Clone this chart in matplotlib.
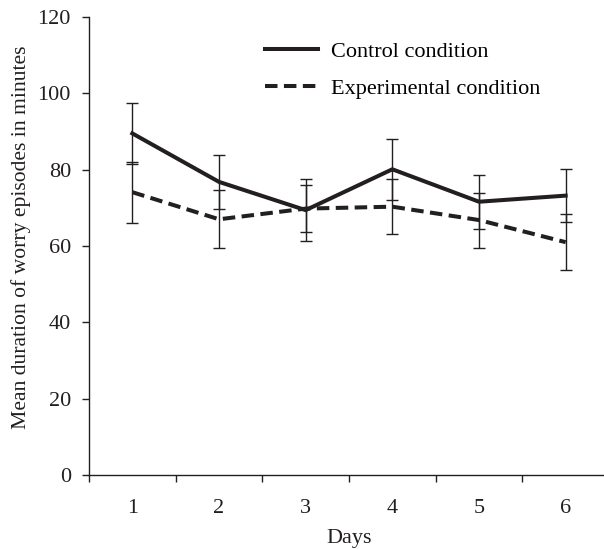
import matplotlib
matplotlib.use("Agg")
import matplotlib.pyplot as plt
from matplotlib.lines import Line2D

days = [1, 2, 3, 4, 5, 6]
control_mean = [89.5, 76.8, 69.4, 80.1, 71.6, 73.2]
control_err = [8.0, 7.0, 8.1, 8.0, 7.1, 7.0]
exp_mean = [74.1, 67.0, 69.8, 70.3, 66.8, 61.0]
exp_err = [8.0, 7.6, 6.2, 7.2, 7.2, 7.3]
yticks = [0, 20, 40, 60, 80, 100, 120]

plt.rcParams['font.family'] = ['Liberation Serif', 'DejaVu Serif']
col = '#231f20'
fs = 16

fig = plt.figure(figsize=(6.04, 5.49), dpi=100)
ax = fig.add_axes([89/604, 74/549, 520/604, 458/549])

dash = (0, (3.1, 1.6))
ax.errorbar(days, control_mean, yerr=control_err, color=col, lw=2.9,
            ls='-', ecolor=col, elinewidth=1.0, capsize=4.5, capthick=1.0,
            label='Control condition', zorder=3)
ax.errorbar(days, exp_mean, yerr=exp_err, color=col, lw=2.9,
            ls=dash, ecolor=col, elinewidth=1.0, capsize=4.5, capthick=1.0,
            label='Experimental condition', zorder=3)

ax.set_xlim(0.5, 6.5)
ax.set_ylim(0, 120)
ax.set_yticks(yticks)
ax.set_xticks(days)
ax.set_xticklabels([str(d) for d in days])
ax.set_xticks([d + 0.5 for d in [0] + days], minor=True)
ax.tick_params(axis='x', which='major', length=0, pad=17, labelsize=fs, colors=col)
ax.tick_params(axis='x', which='minor', length=5, width=1, direction='out', color=col)
ax.tick_params(axis='y', which='major', length=5, width=1, direction='out', labelsize=fs, colors=col, pad=8)
for s in ['top', 'right']:
    ax.spines[s].set_visible(False)
for s in ['left', 'bottom']:
    ax.spines[s].set_color(col)
    ax.spines[s].set_linewidth(1.0)

ax.set_xlabel('Days', fontsize=fs, color=col, labelpad=8)
ax.set_ylabel('Mean duration of worry episodes in minutes', fontsize=15.6, color=col)
ax.yaxis.set_label_coords(-0.1115, 0.519)

handles = [Line2D([], [], color=col, lw=2.9, ls='-'),
           Line2D([], [], color=col, lw=2.9, ls=dash)]
fig.legend(handles, ['Control condition', 'Experimental condition'],
           loc='upper left', bbox_to_anchor=(265/604, 1 - 41/549),
           frameon=False, fontsize=fs, handlelength=2.4, handletextpad=0.58,
           labelspacing=0.77, borderpad=0, borderaxespad=0)

fig.savefig('out.png', dpi=100)
